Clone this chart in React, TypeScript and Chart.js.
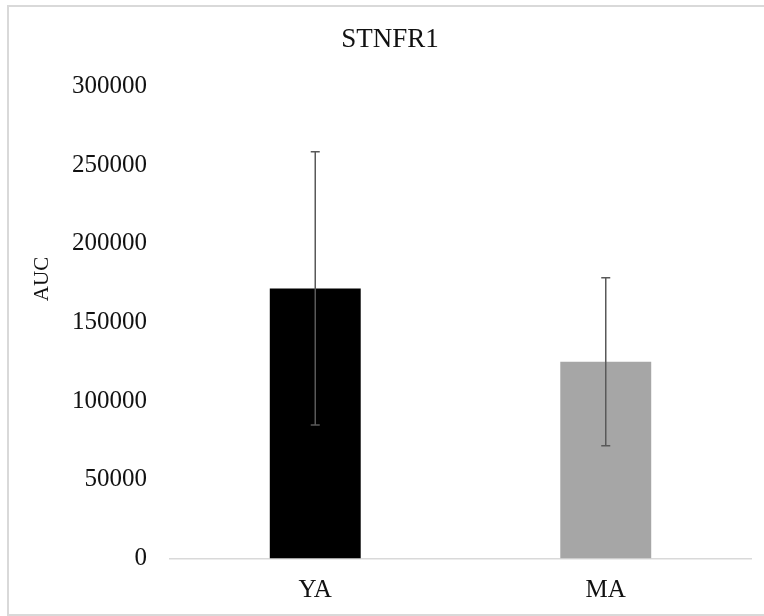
import React, { useEffect, useRef } from "react";
import { Chart, registerables } from "chart.js";

Chart.register(...registerables);

const chartTitle = "STNFR1";
const yAxisTitle = "AUC";
const categories = ["YA", "MA"];
const means = [171600, 125000];
const errors = [86800, 53400];
const barColors = ["#000000", "#a6a6a6"];
const yMin = 0;
const yMax = 300000;
const yStep = 50000;

const FONT = "'Liberation Serif', 'Times New Roman', serif";

const borderPlugin = {
  id: "outerBorder",
  beforeDraw(chart: any) {
    const ctx = chart.ctx;
    ctx.save();
    ctx.fillStyle = "#ffffff";
    ctx.fillRect(0, 0, chart.width, chart.height);
    ctx.strokeStyle = "#d9d9d9";
    ctx.lineWidth = 2;
    ctx.strokeRect(8, 6, chart.width + 4, chart.height - 7);
    ctx.restore();
  },
};

const errorBarPlugin = {
  id: "errorBars",
  afterDatasetsDraw(chart: any) {
    const ctx = chart.ctx;
    const yScale = chart.scales.y;
    const meta = chart.getDatasetMeta(0);
    ctx.save();
    ctx.strokeStyle = "#595959";
    ctx.lineWidth = 1.5;
    meta.data.forEach((bar: any, i: number) => {
      const x = bar.x;
      const top = yScale.getPixelForValue(means[i] + errors[i]);
      const bottom = yScale.getPixelForValue(means[i] - errors[i]);
      ctx.beginPath();
      ctx.moveTo(x, top);
      ctx.lineTo(x, bottom);
      ctx.moveTo(x - 4.5, top);
      ctx.lineTo(x + 4.5, top);
      ctx.moveTo(x - 4.5, bottom);
      ctx.lineTo(x + 4.5, bottom);
      ctx.stroke();
    });
    ctx.restore();
  },
};

const axisTitlePlugin = {
  id: "axisTitle",
  afterDraw(chart: any) {
    const ctx = chart.ctx;
    ctx.save();
    ctx.translate(42, 279);
    ctx.rotate(-Math.PI / 2);
    ctx.fillStyle = "#111111";
    ctx.font = `21px ${FONT}`;
    ctx.textAlign = "center";
    ctx.textBaseline = "middle";
    ctx.fillText(yAxisTitle, 0, 0);
    ctx.restore();
  },
};

export default function App() {
  const canvasRef = useRef<HTMLCanvasElement | null>(null);

  useEffect(() => {
    if (!canvasRef.current) return;
    const chart = new Chart(canvasRef.current, {
      type: "bar",
      data: {
        labels: categories,
        datasets: [
          {
            data: means,
            backgroundColor: barColors,
            borderWidth: 0,
            categoryPercentage: 1,
            barPercentage: 0.313,
          },
        ],
      },
      options: {
        responsive: false,
        animation: false,
        layout: { padding: { left: 29, right: 13, top: 10, bottom: 0 } },
        plugins: {
          legend: { display: false },
          tooltip: { enabled: false },
          title: {
            display: true,
            text: chartTitle,
            color: "#111111",
            font: { family: FONT, size: 27, weight: "normal" },
            padding: { top: 14, bottom: 30 },
          },
        },
        scales: {
          x: {
            grid: { display: false },
            border: { display: true, color: "#d9d9d9", width: 1.5 },
            ticks: {
              color: "#111111",
              font: { family: FONT, size: 25 },
              padding: 9,
            },
            afterFit: (scale: any) => {
              scale.height = 57.5;
            },
          },
          y: {
            min: yMin,
            max: yMax,
            grid: { display: false, drawTicks: false },
            border: { display: false },
            ticks: {
              stepSize: yStep,
              color: "#111111",
              font: { family: FONT, size: 25 },
              padding: 23,
              callback: (v: any) => String(v),
            },
            afterFit: (scale: any) => {
              scale.width = 141;
            },
          },
        },
      },
      plugins: [borderPlugin, errorBarPlugin, axisTitlePlugin],
    });
    return () => chart.destroy();
  }, []);

  return (
    <div style={{ position: "absolute", left: 0, top: 0, width: 764, height: 616 }}>
      <canvas ref={canvasRef} width={764} height={616} style={{ display: "block" }} />
    </div>
  );
}
